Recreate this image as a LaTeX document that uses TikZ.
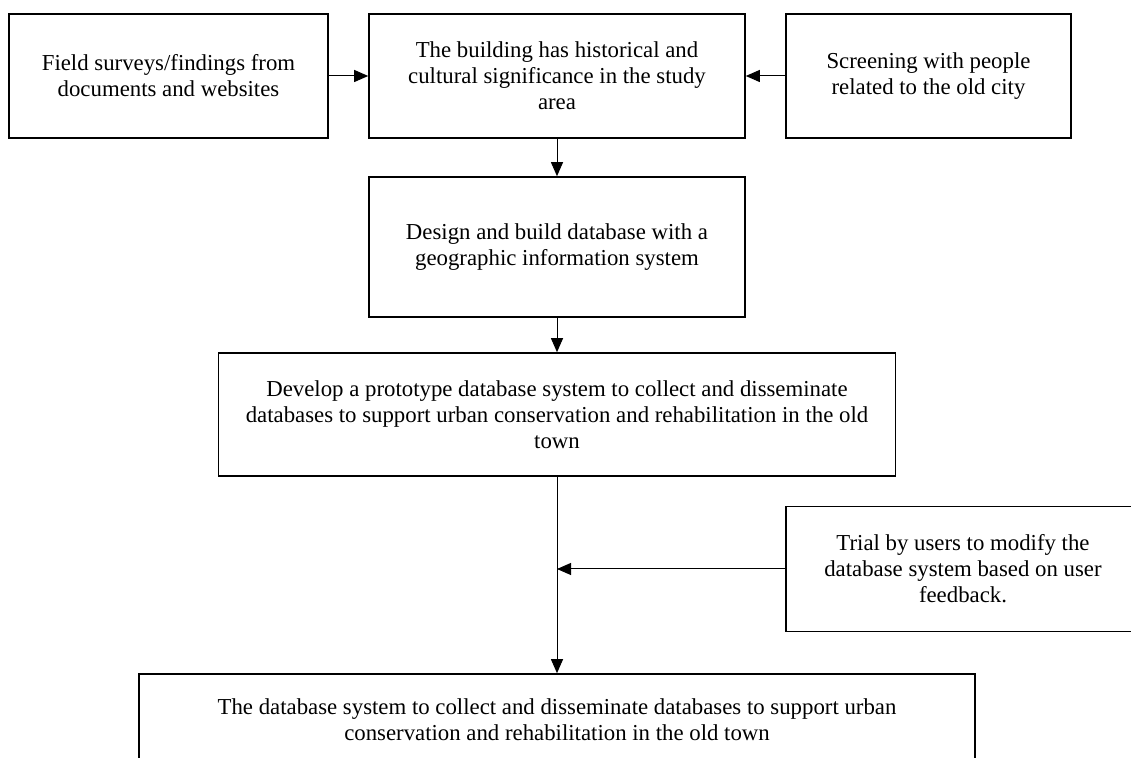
\documentclass[tikz,border=0pt]{standalone}
\usepackage{fontspec}
\setmainfont{Liberation Serif}
\usetikzlibrary{arrows.meta}
\tikzset{
    box/.style={draw, line width=0.8pt, align=center, inner sep=3pt}, % frame of every step
    link/.style={-{Triangle[length=7pt, width=6pt]}, line width=0.5pt} % arrows between steps
}

\begin{document}
\begin{tikzpicture}[x=0.5pt, y=-0.5pt, font=\fontsize{11.4}{13}\selectfont]
    \def\W{1131} \def\H{758}
    \useasboundingbox (0,0) rectangle (\W,\H);
    \clip (0,0) rectangle (\W,\H);

    \node[box, minimum width=159.5pt, minimum height=62pt] (field) at (168.5,76) {Field surveys/findings from\\documents and websites};
    \node[box, minimum width=188pt, minimum height=62pt] (building) at (557,76) {The building has historical and\\cultural significance in the study\\area};
    \node[box, minimum width=142.5pt, minimum height=62pt] (screen) at (928.5,76) {Screening with people\\related to the old city};
    \node[box, minimum width=188pt, minimum height=70pt] (design) at (557,247) {Design and build database with a\\geographic information system};
    \node[box, minimum width=338.5pt, minimum height=61.5pt] (develop) at (557,414.5) {Develop a prototype database system to collect and disseminate\\databases to support urban conservation and rehabilitation in the old\\town};
    \node[box, minimum width=177pt, minimum height=62.5pt] (trial) at (963,569) {Trial by users to modify the\\database system based on user\\feedback.};
    \node[box, minimum width=418pt, minimum height=46pt] (result) at (557,720) {The database system to collect and disseminate databases to support urban\\conservation and rehabilitation in the old town};

    \draw[link] (field.east) -- (building.west);
    \draw[link] (screen.west) -- (building.east);
    \draw[link] (building.south) -- (design.north);
    \draw[link] (design.south) -- (develop.north);
    \coordinate (join) at (develop.south |- trial.west);
    \draw[link] (develop.south) -- (result.north);
    \draw[link] (trial.west) -- (join);
\end{tikzpicture}
\end{document}
